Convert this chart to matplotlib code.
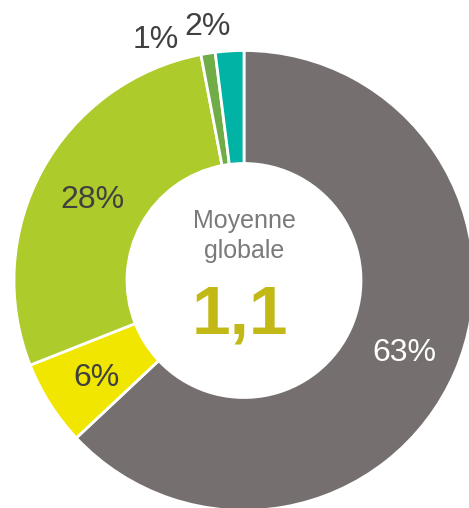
import matplotlib
matplotlib.use('Agg')
import matplotlib.pyplot as plt

# share of answers, clockwise from 12 o'clock
labels = ["63%", "6%", "28%", "1%", "2%"]
values = [63, 6, 28, 1, 2]
colors = ["#75706f", "#f1e600", "#adcb2b", "#70ad47", "#00b3a4"]
label_colors = ["white", "#404040", "#404040", "#404040", "#404040"]

center_title = ["Moyenne", "globale"]
center_value = "1,1"

W, H = 469, 508
plt.rcParams['font.family'] = ['Liberation Sans', 'DejaVu Sans']

fig = plt.figure(figsize=(W / 100, H / 100), dpi=100)
ax = fig.add_axes([0, 0, 1, 1])

cx, cy = 244, H - 280.5
ax.pie(values, colors=colors, startangle=90, counterclock=False,
       radius=230, center=(cx, cy),
       wedgeprops=dict(width=113, edgecolor='white', linewidth=2))
ax.set_xlim(0, W)
ax.set_ylim(0, H)
ax.set_aspect('equal')
ax.axis('off')

# label anchors in pixel coords (x centre, baseline)
label_pos = [(404, 361), (96, 386), (92, 208), (156, 48), (208, 35)]
for lab, col, (x, y) in zip(labels, label_colors, label_pos):
    ax.text(x, H - y, lab, color=col, fontsize=23, ha='center', va='baseline')

for line, y in zip(center_title, [228, 258]):
    ax.text(cx, H - y, line, color="#7a7a7a", fontsize=18,
            ha='center', va='baseline')
ax.text(240, H - 333, center_value, color="#c2b816", fontsize=50,
        fontweight='bold', ha='center', va='baseline')

fig.savefig("out.png", dpi=100)
